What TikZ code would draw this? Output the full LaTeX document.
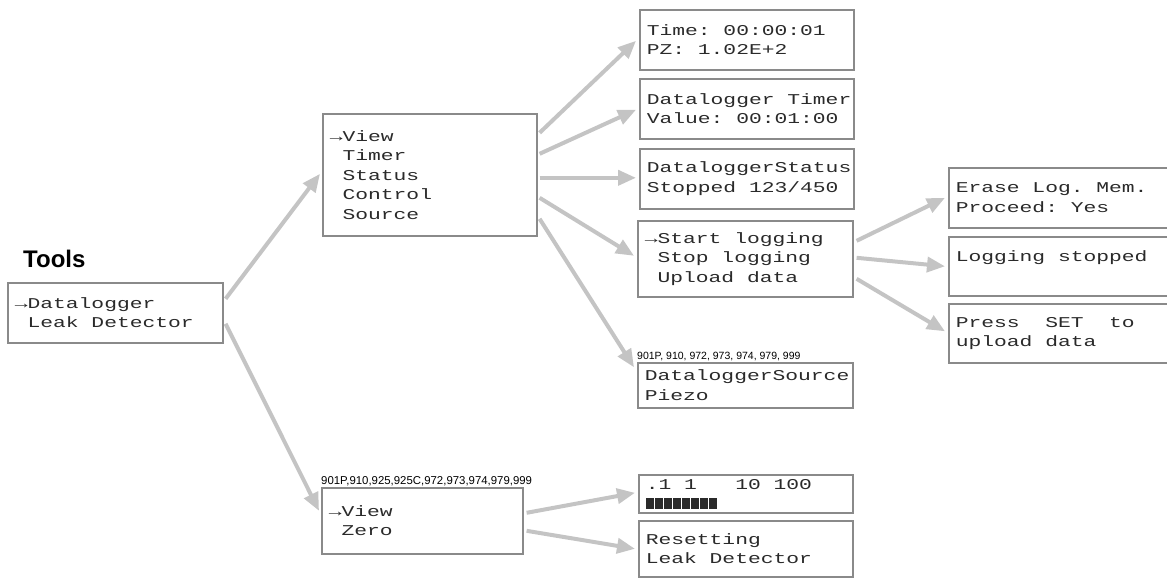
\documentclass[tikz,border=0pt]{standalone}
\usepackage{fontspec}
\setmainfont{Liberation Sans}
\newfontfamily\lcdfont[FakeStretch=1.42]{Liberation Mono}
\usetikzlibrary{arrows.meta}
\definecolor{boxgray}{HTML}{8A8A8A}
\definecolor{arrowgray}{HTML}{C4C4C4}
\definecolor{lcdink}{HTML}{2A2A2A}
% one blank LCD character cell
\newcommand\lcdpad{\phantom{x}}
% bar graph segments of the leak detector display
\newcommand\lcdbars{\foreach \i in {1,...,8}{\rule{8.4pt}{11pt}\hspace{0.6pt}}}
\tikzset{
  lcdbox/.style={draw=boxgray, line width=1.6pt, rectangle, anchor=north west,
    inner xsep=7pt, inner ysep=0pt, align=left, text=lcdink,
    font=\lcdfont\fontsize{15}{19.5}\selectfont},
  link/.style={draw=arrowgray, line width=4pt,
    -{Triangle[length=18pt,width=15pt]}},
  models/.style={anchor=base west, inner sep=0pt},
}
\begin{document}
\begin{tikzpicture}[x=1pt,y=-1pt]
\useasboundingbox (0,0) rectangle (1167,579);
\clip (0,0) rectangle (1167,579);

% title
\node[font=\bfseries\fontsize{24}{28}\selectfont, anchor=west, inner sep=0pt] (title) at (23,259) {Tools};

% tool selection
\node[lcdbox, minimum width=215pt, minimum height=60pt, text width=201pt] (tools) at (7,282)
  {→Datalogger\\\lcdpad Leak\lcdpad Detector};

% datalogger menu
\node[lcdbox, minimum width=214pt, minimum height=122pt, text width=200pt] (dlmenu) at (322,113)
  {→View\\\lcdpad Timer\\\lcdpad Status\\\lcdpad Control\\\lcdpad Source};

% datalogger screens
\node[lcdbox, minimum width=214pt, minimum height=60pt, text width=200pt] (view) at (639,9)
  {Time:\lcdpad 00:00:01\\PZ:\lcdpad 1.02E+2};
\node[lcdbox, minimum width=214pt, minimum height=60pt, text width=200pt] (timer) at (639,78)
  {Datalogger\lcdpad Timer\\Value:\lcdpad 00:01:00};
\node[lcdbox, minimum width=214pt, minimum height=60pt, text width=200pt] (status) at (639,148)
  {DataloggerStatus\\Stopped\lcdpad 123/450};
\node[lcdbox, minimum width=215pt, minimum height=76pt, text width=201pt] (control) at (637,220)
  {→Start\lcdpad logging\\\lcdpad Stop\lcdpad logging\\\lcdpad Upload\lcdpad data};
\node[lcdbox, minimum width=215pt, minimum height=45pt, text width=201pt] (source) at (637,362)
  {DataloggerSource\\Piezo};
\node[models, font=\fontsize{10.5}{12}\selectfont] (srcmodels) at (637,359)
  {901P, 910, 972, 973, 974, 979, 999};

% logging control screens
\node[lcdbox, minimum width=230pt, minimum height=60pt, text width=216pt] (erase) at (948,167)
  {Erase\lcdpad Log.\lcdpad Mem.\\Proceed:\lcdpad Yes};
\node[lcdbox, minimum width=230pt, minimum height=59pt, text width=216pt] (stopped) at (948,236)
  {Logging\lcdpad stopped\\\lcdpad};
\node[lcdbox, minimum width=230pt, minimum height=59pt, text width=216pt] (upload) at (948,303)
  {Press\lcdpad\lcdpad SET\lcdpad\lcdpad to\\upload\lcdpad data};

% leak detector menu
\node[lcdbox, minimum width=201pt, minimum height=66pt, text width=187pt] (ldmenu) at (321,487)
  {→View\\\lcdpad Zero};
\node[models, font=\fontsize{11.4}{13}\selectfont] (ldmodels) at (321,484)
  {901P,910,925,925C,972,973,974,979,999};

% leak detector screens
\node[lcdbox, minimum width=214pt, minimum height=38pt, text width=200pt] (ldview) at (638,474)
  {.1\lcdpad 1\lcdpad\lcdpad\lcdpad 10\lcdpad 100\\\lcdbars};
\node[lcdbox, minimum width=214pt, minimum height=56pt, text width=200pt] (ldzero) at (638,520)
  {Resetting\\Leak\lcdpad Detector};

% connectors
\draw[link] ([xshift=2pt,yshift=14pt]tools.east) -- ([xshift=-2pt,yshift=1pt]dlmenu.west);
\draw[link] ([xshift=2pt,yshift=-11pt]tools.east) -- ([xshift=-2pt,yshift=10pt]ldmenu.west);

\draw[link] ([xshift=2pt,yshift=42pt]dlmenu.east) -- ([xshift=-3pt,yshift=-1pt]view.west);
\draw[link] ([xshift=2pt,yshift=21pt]dlmenu.east) -- ([xshift=-3pt,yshift=-1pt]timer.west);
\draw[link] ([xshift=2pt,yshift=-3pt]dlmenu.east) -- ([xshift=-3pt,yshift=1pt]status.west);
\draw[link] ([xshift=2pt,yshift=-23pt]dlmenu.east) -- ([xshift=-3pt,yshift=3pt]control.west);
\draw[link] ([xshift=2pt,yshift=-44pt]dlmenu.east) -- ([xshift=-3pt,yshift=18pt]source.west);

\draw[link] ([xshift=3pt,yshift=18pt]control.east) -- ([xshift=-3pt,yshift=0pt]erase.west);
\draw[link] ([xshift=3pt,yshift=1pt]control.east) -- ([xshift=-3pt,yshift=0pt]stopped.west);
\draw[link] ([xshift=3pt,yshift=-20pt]control.east) -- ([xshift=-3pt,yshift=2pt]upload.west);

\draw[link] ([xshift=3pt,yshift=8pt]ldmenu.east) -- ([xshift=-3pt,yshift=1pt]ldview.west);
\draw[link] ([xshift=3pt,yshift=-10pt]ldmenu.east) -- ([xshift=-3pt,yshift=0pt]ldzero.west);
\end{tikzpicture}
\end{document}
